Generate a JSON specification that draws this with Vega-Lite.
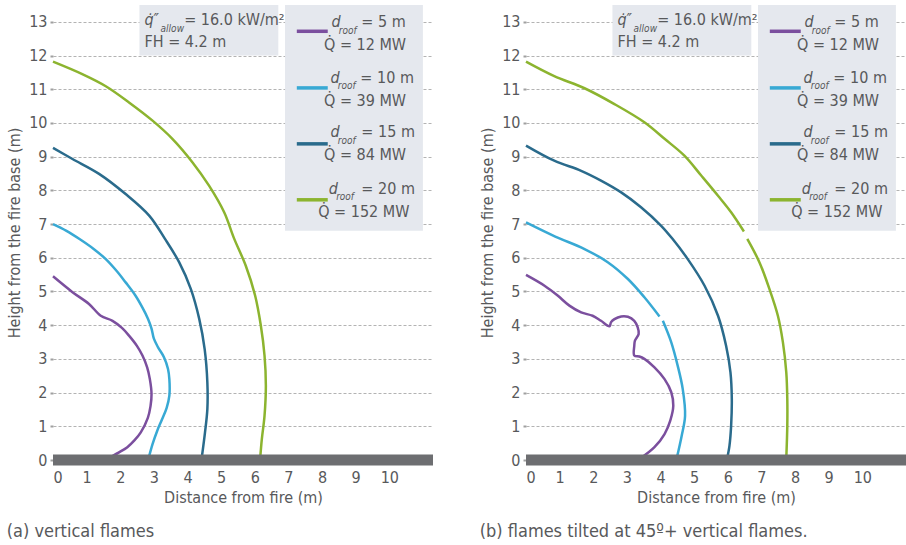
{
  "$schema": "https://vega.github.io/schema/vega-lite/v6.json",
  "padding": {"left": 6, "top": 5, "right": 0, "bottom": 0},
  "config": {
    "font": "'DejaVu Sans Condensed', 'Liberation Sans', sans-serif",
    "view": {"stroke": null},
    "concat": {"spacing": 40},
    "axis": {"labelColor": "#58595b", "titleColor": "#58595b", "labelFontSize": 16, "titleFontSize": 16, "titleFontWeight": "normal", "domain": false, "labelFont": "'DejaVu Sans Condensed', 'Liberation Sans', sans-serif", "titleFont": "'DejaVu Sans Condensed', 'Liberation Sans', sans-serif"},
    "axisY": {"grid": true, "gridColor": "#b3b3b3", "gridDash": [3, 2], "gridWidth": 1, "tickSize": 3, "tickWidth": 2, "tickColor": "#a0a0a0", "labelPadding": 3, "titlePadding": 6},
    "axisX": {"grid": false, "ticks": false, "labelPadding": 9, "titlePadding": 4},
    "text": {"font": "'DejaVu Sans Condensed', 'Liberation Sans', sans-serif", "color": "#58595b", "fontSize": 16, "baseline": "middle"}
  },
  "datasets": {
    "boxes": [
      {"x": 2.57, "x2": 6.7, "y": 12.0, "y2": 13.5},
      {"x": 6.9, "x2": 11.0, "y": 6.8, "y2": 13.5}
    ],
    "ground": [{"x": 0, "x2": 11.3, "y": 0}],
    "swatch": [
      {"s": "5", "x": 7.25, "x2": 8.17, "y": 12.72},
      {"s": "10", "x": 7.25, "x2": 8.17, "y": 11.04},
      {"s": "15", "x": 7.25, "x2": 8.17, "y": 9.38},
      {"s": "20", "x": 7.25, "x2": 8.17, "y": 7.72}
    ],
    "txt": [
      {"k": "it", "x": 2.72, "y": 13.06, "t": "q̇″"},
      {"k": "sub", "x": 3.2, "y": 12.78, "t": "allow"},
      {"k": "main", "x": 3.9, "y": 13.05, "t": "= 16.0 kW/m²"},
      {"k": "main", "x": 2.72, "y": 12.4, "t": "FH = 4.2 m"},
      {"k": "it", "x": 8.28, "y": 13.0, "t": "d"},
      {"k": "sub", "x": 8.5, "y": 12.74, "t": "roof"},
      {"k": "main", "x": 9.17, "y": 13.0, "t": "= 5 m"},
      {"k": "right", "x": 10.5, "y": 12.31, "t": "Q̇ = 12 MW"},
      {"k": "it", "x": 8.25, "y": 11.34, "t": "d"},
      {"k": "sub", "x": 8.47, "y": 11.09, "t": "roof"},
      {"k": "main", "x": 9.14, "y": 11.34, "t": "= 10 m"},
      {"k": "right", "x": 10.5, "y": 10.66, "t": "Q̇ = 39 MW"},
      {"k": "it", "x": 8.25, "y": 9.72, "t": "d"},
      {"k": "sub", "x": 8.47, "y": 9.47, "t": "roof"},
      {"k": "main", "x": 9.17, "y": 9.72, "t": "= 15 m"},
      {"k": "right", "x": 10.5, "y": 9.05, "t": "Q̇ = 84 MW"},
      {"k": "it", "x": 8.2, "y": 8.04, "t": "d"},
      {"k": "sub", "x": 8.42, "y": 7.8, "t": "roof"},
      {"k": "main", "x": 9.17, "y": 8.04, "t": "= 20 m"},
      {"k": "right", "x": 10.6, "y": 7.37, "t": "Q̇ = 152 MW"}
    ],
    "curves": [
      {"p": "a", "s": "5", "g": "1", "i": 0, "x": 0, "y": 5.45},
      {"p": "a", "s": "5", "g": "1", "i": 1, "x": 0.58, "y": 4.98},
      {"p": "a", "s": "5", "g": "1", "i": 2, "x": 1.07, "y": 4.63},
      {"p": "a", "s": "5", "g": "1", "i": 3, "x": 1.42, "y": 4.28},
      {"p": "a", "s": "5", "g": "1", "i": 4, "x": 1.77, "y": 4.13},
      {"p": "a", "s": "5", "g": "1", "i": 5, "x": 2.05, "y": 3.92},
      {"p": "a", "s": "5", "g": "1", "i": 6, "x": 2.26, "y": 3.69},
      {"p": "a", "s": "5", "g": "1", "i": 7, "x": 2.5, "y": 3.38},
      {"p": "a", "s": "5", "g": "1", "i": 8, "x": 2.66, "y": 3.1},
      {"p": "a", "s": "5", "g": "1", "i": 9, "x": 2.8, "y": 2.75},
      {"p": "a", "s": "5", "g": "1", "i": 10, "x": 2.88, "y": 2.4},
      {"p": "a", "s": "5", "g": "1", "i": 11, "x": 2.93, "y": 1.96},
      {"p": "a", "s": "5", "g": "1", "i": 12, "x": 2.9, "y": 1.6},
      {"p": "a", "s": "5", "g": "1", "i": 13, "x": 2.82, "y": 1.25},
      {"p": "a", "s": "5", "g": "1", "i": 14, "x": 2.61, "y": 0.82},
      {"p": "a", "s": "5", "g": "1", "i": 15, "x": 2.42, "y": 0.58},
      {"p": "a", "s": "5", "g": "1", "i": 16, "x": 2.21, "y": 0.38},
      {"p": "a", "s": "5", "g": "1", "i": 17, "x": 1.95, "y": 0.22},
      {"p": "a", "s": "5", "g": "1", "i": 18, "x": 1.62, "y": 0.04},

      {"p": "a", "s": "10", "g": "1", "i": 0, "x": 0, "y": 7.0},
      {"p": "a", "s": "10", "g": "1", "i": 1, "x": 0.4, "y": 6.8},
      {"p": "a", "s": "10", "g": "1", "i": 2, "x": 0.8, "y": 6.55},
      {"p": "a", "s": "10", "g": "1", "i": 3, "x": 1.2, "y": 6.27},
      {"p": "a", "s": "10", "g": "1", "i": 4, "x": 1.57, "y": 5.96},
      {"p": "a", "s": "10", "g": "1", "i": 5, "x": 1.9, "y": 5.6},
      {"p": "a", "s": "10", "g": "1", "i": 6, "x": 2.16, "y": 5.27},
      {"p": "a", "s": "10", "g": "1", "i": 7, "x": 2.45, "y": 4.88},
      {"p": "a", "s": "10", "g": "1", "i": 8, "x": 2.66, "y": 4.52},
      {"p": "a", "s": "10", "g": "1", "i": 9, "x": 2.82, "y": 4.2},
      {"p": "a", "s": "10", "g": "1", "i": 10, "x": 2.93, "y": 3.9},
      {"p": "a", "s": "10", "g": "1", "i": 11, "x": 3.0, "y": 3.6},
      {"p": "a", "s": "10", "g": "1", "i": 12, "x": 3.12, "y": 3.35},
      {"p": "a", "s": "10", "g": "1", "i": 13, "x": 3.3, "y": 3.05},
      {"p": "a", "s": "10", "g": "1", "i": 14, "x": 3.42, "y": 2.7},
      {"p": "a", "s": "10", "g": "1", "i": 15, "x": 3.46, "y": 2.4},
      {"p": "a", "s": "10", "g": "1", "i": 16, "x": 3.46, "y": 1.91},
      {"p": "a", "s": "10", "g": "1", "i": 17, "x": 3.38, "y": 1.55},
      {"p": "a", "s": "10", "g": "1", "i": 18, "x": 3.24, "y": 1.2},
      {"p": "a", "s": "10", "g": "1", "i": 19, "x": 3.1, "y": 0.87},
      {"p": "a", "s": "10", "g": "1", "i": 20, "x": 2.96, "y": 0.47},
      {"p": "a", "s": "10", "g": "1", "i": 21, "x": 2.84, "y": 0.04},

      {"p": "a", "s": "15", "g": "1", "i": 0, "x": 0, "y": 9.26},
      {"p": "a", "s": "15", "g": "1", "i": 1, "x": 0.58, "y": 8.93},
      {"p": "a", "s": "15", "g": "1", "i": 2, "x": 1.37, "y": 8.49},
      {"p": "a", "s": "15", "g": "1", "i": 3, "x": 2.16, "y": 7.89},
      {"p": "a", "s": "15", "g": "1", "i": 4, "x": 2.86, "y": 7.25},
      {"p": "a", "s": "15", "g": "1", "i": 5, "x": 3.33, "y": 6.56},
      {"p": "a", "s": "15", "g": "1", "i": 6, "x": 3.75, "y": 5.87},
      {"p": "a", "s": "15", "g": "1", "i": 7, "x": 4.1, "y": 5.07},
      {"p": "a", "s": "15", "g": "1", "i": 8, "x": 4.35, "y": 4.18},
      {"p": "a", "s": "15", "g": "1", "i": 9, "x": 4.51, "y": 3.29},
      {"p": "a", "s": "15", "g": "1", "i": 10, "x": 4.59, "y": 2.3},
      {"p": "a", "s": "15", "g": "1", "i": 11, "x": 4.59, "y": 1.51},
      {"p": "a", "s": "15", "g": "1", "i": 12, "x": 4.52, "y": 0.82},
      {"p": "a", "s": "15", "g": "1", "i": 13, "x": 4.42, "y": 0.04},

      {"p": "a", "s": "20", "g": "1", "i": 0, "x": 0, "y": 11.82},
      {"p": "a", "s": "20", "g": "1", "i": 1, "x": 0.87, "y": 11.45},
      {"p": "a", "s": "20", "g": "1", "i": 2, "x": 1.57, "y": 11.09},
      {"p": "a", "s": "20", "g": "1", "i": 3, "x": 2.26, "y": 10.61},
      {"p": "a", "s": "20", "g": "1", "i": 4, "x": 2.96, "y": 10.07},
      {"p": "a", "s": "20", "g": "1", "i": 5, "x": 3.55, "y": 9.53},
      {"p": "a", "s": "20", "g": "1", "i": 6, "x": 4.15, "y": 8.83},
      {"p": "a", "s": "20", "g": "1", "i": 7, "x": 4.64, "y": 8.14},
      {"p": "a", "s": "20", "g": "1", "i": 8, "x": 5.09, "y": 7.35},
      {"p": "a", "s": "20", "g": "1", "i": 9, "x": 5.39, "y": 6.56},
      {"p": "a", "s": "20", "g": "1", "i": 10, "x": 5.73, "y": 5.77},
      {"p": "a", "s": "20", "g": "1", "i": 11, "x": 6.01, "y": 4.88},
      {"p": "a", "s": "20", "g": "1", "i": 12, "x": 6.18, "y": 3.99},
      {"p": "a", "s": "20", "g": "1", "i": 13, "x": 6.29, "y": 3.1},
      {"p": "a", "s": "20", "g": "1", "i": 14, "x": 6.33, "y": 2.2},
      {"p": "a", "s": "20", "g": "1", "i": 15, "x": 6.29, "y": 1.31},
      {"p": "a", "s": "20", "g": "1", "i": 16, "x": 6.21, "y": 0.62},
      {"p": "a", "s": "20", "g": "1", "i": 17, "x": 6.16, "y": 0.04},

      {"p": "b", "s": "5", "g": "1", "i": 0, "x": 0, "y": 5.49},
      {"p": "b", "s": "5", "g": "1", "i": 1, "x": 0.55, "y": 5.17},
      {"p": "b", "s": "5", "g": "1", "i": 2, "x": 0.94, "y": 4.88},
      {"p": "b", "s": "5", "g": "1", "i": 3, "x": 1.29, "y": 4.58},
      {"p": "b", "s": "5", "g": "1", "i": 4, "x": 1.64, "y": 4.38},
      {"p": "b", "s": "5", "g": "1", "i": 5, "x": 1.98, "y": 4.28},
      {"p": "b", "s": "5", "g": "1", "i": 6, "x": 2.23, "y": 4.13},
      {"p": "b", "s": "5", "g": "1", "i": 7, "x": 2.48, "y": 3.97},
      {"p": "b", "s": "5", "g": "1", "i": 8, "x": 2.53, "y": 4.09},
      {"p": "b", "s": "5", "g": "1", "i": 9, "x": 2.63, "y": 4.18},
      {"p": "b", "s": "5", "g": "1", "i": 10, "x": 2.83, "y": 4.26},
      {"p": "b", "s": "5", "g": "1", "i": 11, "x": 3.03, "y": 4.25},
      {"p": "b", "s": "5", "g": "1", "i": 12, "x": 3.22, "y": 4.13},
      {"p": "b", "s": "5", "g": "1", "i": 13, "x": 3.32, "y": 3.94},
      {"p": "b", "s": "5", "g": "1", "i": 14, "x": 3.35, "y": 3.74},
      {"p": "b", "s": "5", "g": "1", "i": 15, "x": 3.24, "y": 3.54},
      {"p": "b", "s": "5", "g": "1", "i": 16, "x": 3.22, "y": 3.39},
      {"p": "b", "s": "5", "g": "1", "i": 17, "x": 3.22, "y": 3.1},
      {"p": "b", "s": "5", "g": "1", "i": 18, "x": 3.37, "y": 3.07},
      {"p": "b", "s": "5", "g": "1", "i": 19, "x": 3.52, "y": 3.0},
      {"p": "b", "s": "5", "g": "1", "i": 20, "x": 3.82, "y": 2.75},
      {"p": "b", "s": "5", "g": "1", "i": 21, "x": 4.12, "y": 2.4},
      {"p": "b", "s": "5", "g": "1", "i": 22, "x": 4.32, "y": 2.01},
      {"p": "b", "s": "5", "g": "1", "i": 23, "x": 4.38, "y": 1.61},
      {"p": "b", "s": "5", "g": "1", "i": 24, "x": 4.29, "y": 1.17},
      {"p": "b", "s": "5", "g": "1", "i": 25, "x": 4.12, "y": 0.77},
      {"p": "b", "s": "5", "g": "1", "i": 26, "x": 3.82, "y": 0.38},
      {"p": "b", "s": "5", "g": "1", "i": 27, "x": 3.42, "y": 0.06},

      {"p": "b", "s": "10", "g": "1", "i": 0, "x": 0, "y": 7.05},
      {"p": "b", "s": "10", "g": "1", "i": 1, "x": 0.87, "y": 6.63},
      {"p": "b", "s": "10", "g": "1", "i": 2, "x": 1.74, "y": 6.26},
      {"p": "b", "s": "10", "g": "1", "i": 3, "x": 2.43, "y": 5.87},
      {"p": "b", "s": "10", "g": "1", "i": 4, "x": 3.03, "y": 5.37},
      {"p": "b", "s": "10", "g": "1", "i": 5, "x": 3.52, "y": 4.83},
      {"p": "b", "s": "10", "g": "1", "i": 6, "x": 3.97, "y": 4.26},
      {"p": "b", "s": "10", "g": "2", "i": 7, "x": 4.07, "y": 4.13},
      {"p": "b", "s": "10", "g": "2", "i": 8, "x": 4.32, "y": 3.49},
      {"p": "b", "s": "10", "g": "2", "i": 9, "x": 4.51, "y": 2.8},
      {"p": "b", "s": "10", "g": "2", "i": 10, "x": 4.66, "y": 2.11},
      {"p": "b", "s": "10", "g": "2", "i": 11, "x": 4.73, "y": 1.31},
      {"p": "b", "s": "10", "g": "2", "i": 12, "x": 4.63, "y": 0.72},
      {"p": "b", "s": "10", "g": "2", "i": 13, "x": 4.48, "y": 0.04},

      {"p": "b", "s": "15", "g": "1", "i": 0, "x": 0, "y": 9.33},
      {"p": "b", "s": "15", "g": "1", "i": 1, "x": 0.84, "y": 8.88},
      {"p": "b", "s": "15", "g": "1", "i": 2, "x": 1.64, "y": 8.58},
      {"p": "b", "s": "15", "g": "1", "i": 3, "x": 2.23, "y": 8.29},
      {"p": "b", "s": "15", "g": "1", "i": 4, "x": 2.83, "y": 7.94},
      {"p": "b", "s": "15", "g": "1", "i": 5, "x": 3.42, "y": 7.5},
      {"p": "b", "s": "15", "g": "1", "i": 6, "x": 4.02, "y": 6.95},
      {"p": "b", "s": "15", "g": "1", "i": 7, "x": 4.35, "y": 6.57},
      {"p": "b", "s": "15", "g": "1", "i": 8, "x": 4.81, "y": 5.96},
      {"p": "b", "s": "15", "g": "1", "i": 9, "x": 5.31, "y": 5.17},
      {"p": "b", "s": "15", "g": "1", "i": 10, "x": 5.71, "y": 4.28},
      {"p": "b", "s": "15", "g": "1", "i": 11, "x": 5.95, "y": 3.39},
      {"p": "b", "s": "15", "g": "1", "i": 12, "x": 6.08, "y": 2.6},
      {"p": "b", "s": "15", "g": "1", "i": 13, "x": 6.12, "y": 1.81},
      {"p": "b", "s": "15", "g": "1", "i": 14, "x": 6.1, "y": 1.02},
      {"p": "b", "s": "15", "g": "1", "i": 15, "x": 6.05, "y": 0.42},
      {"p": "b", "s": "15", "g": "1", "i": 16, "x": 5.98, "y": 0.04},

      {"p": "b", "s": "20", "g": "1", "i": 0, "x": 0, "y": 11.82},
      {"p": "b", "s": "20", "g": "1", "i": 1, "x": 0.84, "y": 11.39},
      {"p": "b", "s": "20", "g": "1", "i": 2, "x": 1.74, "y": 11.03},
      {"p": "b", "s": "20", "g": "1", "i": 3, "x": 2.63, "y": 10.56},
      {"p": "b", "s": "20", "g": "1", "i": 4, "x": 3.52, "y": 10.02},
      {"p": "b", "s": "20", "g": "1", "i": 5, "x": 4.12, "y": 9.53},
      {"p": "b", "s": "20", "g": "1", "i": 6, "x": 4.71, "y": 9.03},
      {"p": "b", "s": "20", "g": "1", "i": 7, "x": 5.21, "y": 8.44},
      {"p": "b", "s": "20", "g": "1", "i": 8, "x": 5.71, "y": 7.84},
      {"p": "b", "s": "20", "g": "1", "i": 9, "x": 6.1, "y": 7.35},
      {"p": "b", "s": "20", "g": "1", "i": 10, "x": 6.48, "y": 6.78},
      {"p": "b", "s": "20", "g": "2", "i": 11, "x": 6.58, "y": 6.56},
      {"p": "b", "s": "20", "g": "2", "i": 12, "x": 6.94, "y": 5.87},
      {"p": "b", "s": "20", "g": "2", "i": 13, "x": 7.24, "y": 5.07},
      {"p": "b", "s": "20", "g": "2", "i": 14, "x": 7.49, "y": 4.28},
      {"p": "b", "s": "20", "g": "2", "i": 15, "x": 7.64, "y": 3.49},
      {"p": "b", "s": "20", "g": "2", "i": 16, "x": 7.74, "y": 2.6},
      {"p": "b", "s": "20", "g": "2", "i": 17, "x": 7.77, "y": 1.81},
      {"p": "b", "s": "20", "g": "2", "i": 18, "x": 7.77, "y": 1.02},
      {"p": "b", "s": "20", "g": "2", "i": 19, "x": 7.74, "y": 0.04}
    ]
  },
  "hconcat": [
    {
      "width": 380, "height": 455,
      "title": {"text": "(a) vertical flames", "orient": "bottom", "anchor": "start", "frame": "bounds", "fontSize": 18, "fontWeight": "normal", "color": "#58595b", "offset": 18},
      "encoding": {
        "x": {"field": "x", "type": "quantitative", "scale": {"domain": [0, 11.3], "nice": false, "zero": false}, "axis": {"title": "Distance from fire (m)", "values": [0,1,2,3,4,5,6,7,8,9,10]}},
        "y": {"field": "y", "type": "quantitative", "scale": {"domain": [0, 13.5], "nice": false, "zero": false}, "axis": {"title": "Height from the fire base (m)", "values": [0,1,2,3,4,5,6,7,8,9,10,11,12,13]}}
      },
      "layer": [
        {"data": {"name": "boxes"}, "mark": {"type": "rect", "color": "#e5e8ee"},
         "encoding": {"x2": {"field": "x2"}, "y2": {"field": "y2"}}},
        {"data": {"name": "curves"}, "transform": [{"filter": "datum.p == 'a'"}],
         "mark": {"type": "line", "strokeWidth": 2.5, "interpolate": "catmull-rom"},
         "encoding": {
           "color": {"field": "s", "type": "nominal", "scale": {"domain": ["5", "10", "15", "20"], "range": ["#7b4f9e", "#38a9d4", "#2a6b8c", "#8cb42f"]}, "legend": null},
           "detail": {"field": "g", "type": "nominal"},
           "order": {"field": "i", "type": "quantitative"}}},
        {"data": {"name": "ground"}, "mark": {"type": "rule", "strokeWidth": 11, "color": "#6d6e71", "strokeCap": "butt"},
         "encoding": {"x2": {"field": "x2"}}},
        {"data": {"name": "swatch"}, "mark": {"type": "rule", "strokeWidth": 3.5, "strokeCap": "butt"},
         "encoding": {"x2": {"field": "x2"}, "color": {"field": "s", "type": "nominal", "legend": null}}},
        {"data": {"name": "txt"}, "transform": [{"filter": "datum.k == 'main'"}], "mark": {"type": "text", "align": "left"},
         "encoding": {"text": {"field": "t"}}},
        {"data": {"name": "txt"}, "transform": [{"filter": "datum.k == 'it'"}], "mark": {"type": "text", "align": "left", "fontStyle": "italic"},
         "encoding": {"text": {"field": "t"}}},
        {"data": {"name": "txt"}, "transform": [{"filter": "datum.k == 'sub'"}], "mark": {"type": "text", "align": "left", "fontStyle": "italic", "fontSize": 10},
         "encoding": {"text": {"field": "t"}}},
        {"data": {"name": "txt"}, "transform": [{"filter": "datum.k == 'right'"}], "mark": {"type": "text", "align": "right"},
         "encoding": {"text": {"field": "t"}}}
      ]
    },
    {
      "width": 380, "height": 455,
      "title": {"text": "(b) flames tilted at 45º+ vertical flames.", "orient": "bottom", "anchor": "start", "frame": "bounds", "fontSize": 18, "fontWeight": "normal", "color": "#58595b", "offset": 18},
      "encoding": {
        "x": {"field": "x", "type": "quantitative", "scale": {"domain": [0, 11.3], "nice": false, "zero": false}, "axis": {"title": "Distance from fire (m)", "values": [0,1,2,3,4,5,6,7,8,9,10]}},
        "y": {"field": "y", "type": "quantitative", "scale": {"domain": [0, 13.5], "nice": false, "zero": false}, "axis": {"title": "Height from the fire base (m)", "values": [0,1,2,3,4,5,6,7,8,9,10,11,12,13]}}
      },
      "layer": [
        {"data": {"name": "boxes"}, "mark": {"type": "rect", "color": "#e5e8ee"},
         "encoding": {"x2": {"field": "x2"}, "y2": {"field": "y2"}}},
        {"data": {"name": "curves"}, "transform": [{"filter": "datum.p == 'b'"}],
         "mark": {"type": "line", "strokeWidth": 2.5, "interpolate": "catmull-rom"},
         "encoding": {
           "color": {"field": "s", "type": "nominal", "scale": {"domain": ["5", "10", "15", "20"], "range": ["#7b4f9e", "#38a9d4", "#2a6b8c", "#8cb42f"]}, "legend": null},
           "detail": {"field": "g", "type": "nominal"},
           "order": {"field": "i", "type": "quantitative"}}},
        {"data": {"name": "ground"}, "mark": {"type": "rule", "strokeWidth": 11, "color": "#6d6e71", "strokeCap": "butt"},
         "encoding": {"x2": {"field": "x2"}}},
        {"data": {"name": "swatch"}, "mark": {"type": "rule", "strokeWidth": 3.5, "strokeCap": "butt"},
         "encoding": {"x2": {"field": "x2"}, "color": {"field": "s", "type": "nominal", "legend": null}}},
        {"data": {"name": "txt"}, "transform": [{"filter": "datum.k == 'main'"}], "mark": {"type": "text", "align": "left"},
         "encoding": {"text": {"field": "t"}}},
        {"data": {"name": "txt"}, "transform": [{"filter": "datum.k == 'it'"}], "mark": {"type": "text", "align": "left", "fontStyle": "italic"},
         "encoding": {"text": {"field": "t"}}},
        {"data": {"name": "txt"}, "transform": [{"filter": "datum.k == 'sub'"}], "mark": {"type": "text", "align": "left", "fontStyle": "italic", "fontSize": 10},
         "encoding": {"text": {"field": "t"}}},
        {"data": {"name": "txt"}, "transform": [{"filter": "datum.k == 'right'"}], "mark": {"type": "text", "align": "right"},
         "encoding": {"text": {"field": "t"}}}
      ]
    }
  ]
}
